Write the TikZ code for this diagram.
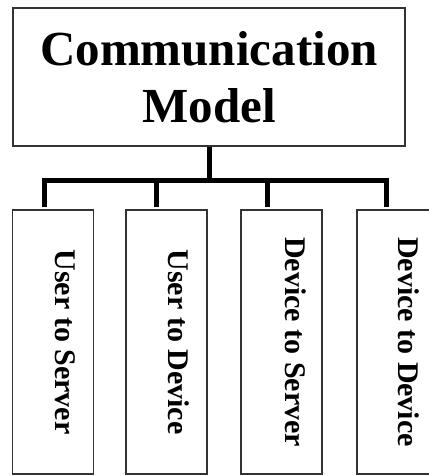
\documentclass[tikz,border=0pt]{standalone}
\usepackage{fontspec}
\setmainfont{Liberation Serif}
\usetikzlibrary{positioning}
\tikzset{headbox/.style={draw=black!80, line width=1.2pt, inner sep=0pt, minimum width=392pt, minimum height=138pt, align=center, font=\fontsize{49}{57}\selectfont\bfseries}}
\tikzset{leafbox/.style={draw=black!80, line width=1.2pt, inner sep=0pt, minimum width=81pt, minimum height=264pt}, leaftext/.style={rotate=-90, inner sep=0pt, font=\fontsize{30}{36}\selectfont\bfseries}, branch/.style={black, line width=5pt, shorten <=2pt}}

\begin{document}
\begin{tikzpicture}[x=1pt,y=-1pt]
   \useasboundingbox (0,0) rectangle (428,476);
   \node[headbox] (model) at (209,77) {Communication\\Model};
   \node[leafbox] (us) at ( 53.0,342) {};
   \node[leafbox] (ud) at (166.5,342) {};
   \node[leafbox] (ds) at (281.5,342) {};
   \node[leafbox] (dd) at (397.5,342) {};
   \node[leaftext] (ust) at ([xshift=12pt]us.center) {User to Server};
   \node[leaftext] (udt) at ([xshift=12pt]ud.center) {User to Device};
   \node[leaftext] (dst) at ([xshift=14pt]ds.center) {Device to Server};
   \node[leaftext] (ddt) at ([xshift=11pt]dd.center) {Device to Device};
   \coordinate (hub) at (209,180.5);
   \draw[branch,shorten <=0pt] (model.south) -- (hub);
   \draw[branch] ([xshift=-9pt]us.north) |- (hub);
   \draw[branch] ([xshift=-10pt]ud.north) |- (hub);
   \draw[branch] ([xshift=-14pt]ds.north) |- (hub);
   \draw[branch] ([xshift=-11pt]dd.north) |- (hub);
\end{tikzpicture}
\end{document}
